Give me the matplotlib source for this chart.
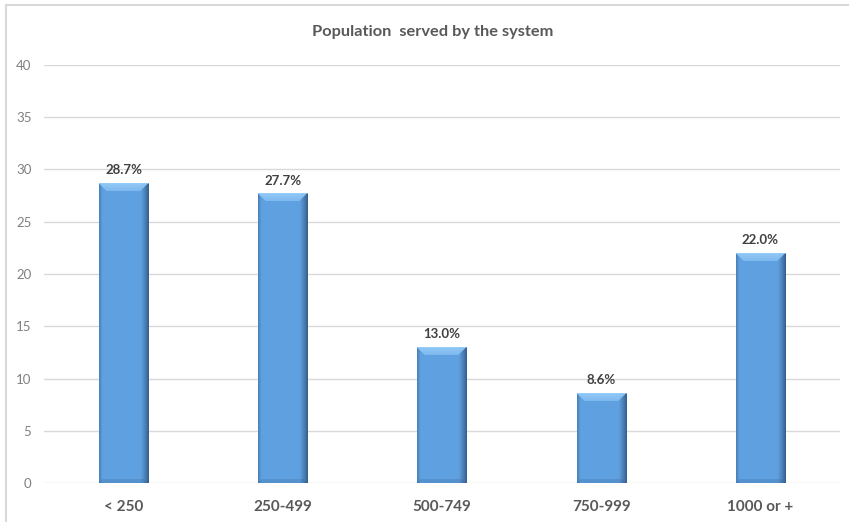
import numpy as np
import matplotlib
matplotlib.use("Agg")
import matplotlib.pyplot as plt
from matplotlib.patches import Rectangle

categories = ["< 250", "250-499", "500-749", "750-999", "1000 or +"]
values = [28.7, 27.7, 13.0, 8.6, 22.0]
value_labels = ["28.7%", "27.7%", "13.0%", "8.6%", "22.0%"]
yticks = [0, 5, 10, 15, 20, 25, 30, 35, 40]

plt.rcParams["font.family"] = ["Lato", "DejaVu Sans"]

fig = plt.figure(figsize=(8.49, 5.22), dpi=100)
ax = fig.add_axes([44 / 849, 1 - 483 / 522, 796 / 849, 418 / 522])

# outer chart frame (top and left edges visible)
fig.patches.append(Rectangle((6 / 849, -0.1), 1.2, 1 - 5 / 522 + 0.1,
                             transform=fig.transFigure, fill=False,
                             edgecolor="#D9D9D9", linewidth=1.5, zorder=0))

x = np.arange(len(categories))
bar_w = 0.31
bars = ax.bar(x, values, width=bar_w, color="#5E9FDE", zorder=2, linewidth=0)

ax.set_xlim(-0.5, len(categories) - 0.5)
ax.set_ylim(0, 40)
ax.set_yticks(yticks)
ax.set_xticks(x)
ax.set_xticklabels(categories, fontsize=11, fontweight="bold", color="#595959")
ax.tick_params(axis="x", length=0, pad=12)
ax.tick_params(axis="y", length=0, pad=9, labelsize=9.5, labelcolor="#808080")
ax.yaxis.grid(True, color="#D9D9D9", linewidth=1)
ax.set_axisbelow(True)
for s in ax.spines.values():
    s.set_visible(False)

# bevelled shading on each bar
fig.canvas.draw()
px_per_y = ax.transData.transform((0, 1))[1] - ax.transData.transform((0, 0))[1]
px_per_x = ax.transData.transform((1, 0))[0] - ax.transData.transform((0, 0))[0]
base = np.array([0.37, 0.63, 0.88])
light = np.array([0.60, 0.81, 0.98])
dark = np.array([0.13, 0.24, 0.38])
for rect in bars:
    bx, bw, bh = rect.get_x(), rect.get_width(), rect.get_height()
    W = max(int(round(bw * px_per_x)), 2)
    H = max(int(round(bh * px_per_y)), 2)
    img = np.tile(base, (H, W, 1))
    cols = np.arange(W)
    # right edge darkening
    rfrac = np.clip((cols - (W - 9)) / 9.0, 0, 1) ** 1.3
    img = img * (1 - rfrac[None, :, None] * 0.75) + dark * (rfrac[None, :, None] * 0.75)
    # left edge slight darkening
    lfrac = np.clip((3 - cols) / 3.0, 0, 1)
    img = img * (1 - lfrac[None, :, None] * 0.3) + dark * (lfrac[None, :, None] * 0.3)
    # top bevel (trapezoid)
    bev = 8
    for r in range(min(bev, H)):
        c0 = r
        c1 = W - 1 - r
        if c1 > c0:
            t = 1 - r / bev * 0.4
            img[r, c0:c1] = img[r, c0:c1] * (1 - 0.85 * t) + light * (0.85 * t)
    img[0, :] = img[0, :] * 0.5 + light * 0.5
    # bottom bevel
    for r in range(min(4, H)):
        rr = H - 1 - r
        c0 = r
        c1 = W - 1 - r
        img[rr, c0:c1] = img[rr, c0:c1] * 0.85 + dark * 0.15
    img = np.clip(img, 0, 1)
    ax.imshow(img, extent=(bx, bx + bw, 0, bh), origin="upper",
              aspect="auto", zorder=3, interpolation="bilinear")

ax.set_xlim(-0.5, len(categories) - 0.5)
ax.set_ylim(0, 40)

for xi, v, lab in zip(x, values, value_labels):
    ax.annotate(lab, (xi, v), xytext=(0, 5), textcoords="offset points",
                ha="center", va="bottom", fontsize=9.5, fontweight="bold",
                color="#404040", zorder=4)

fig.text(433 / 849, 1 - 32 / 522, "Population  served by the system",
         ha="center", va="center", fontsize=11.8, fontweight="bold",
         color="#595959")

fig.savefig("out.png", dpi=100)
